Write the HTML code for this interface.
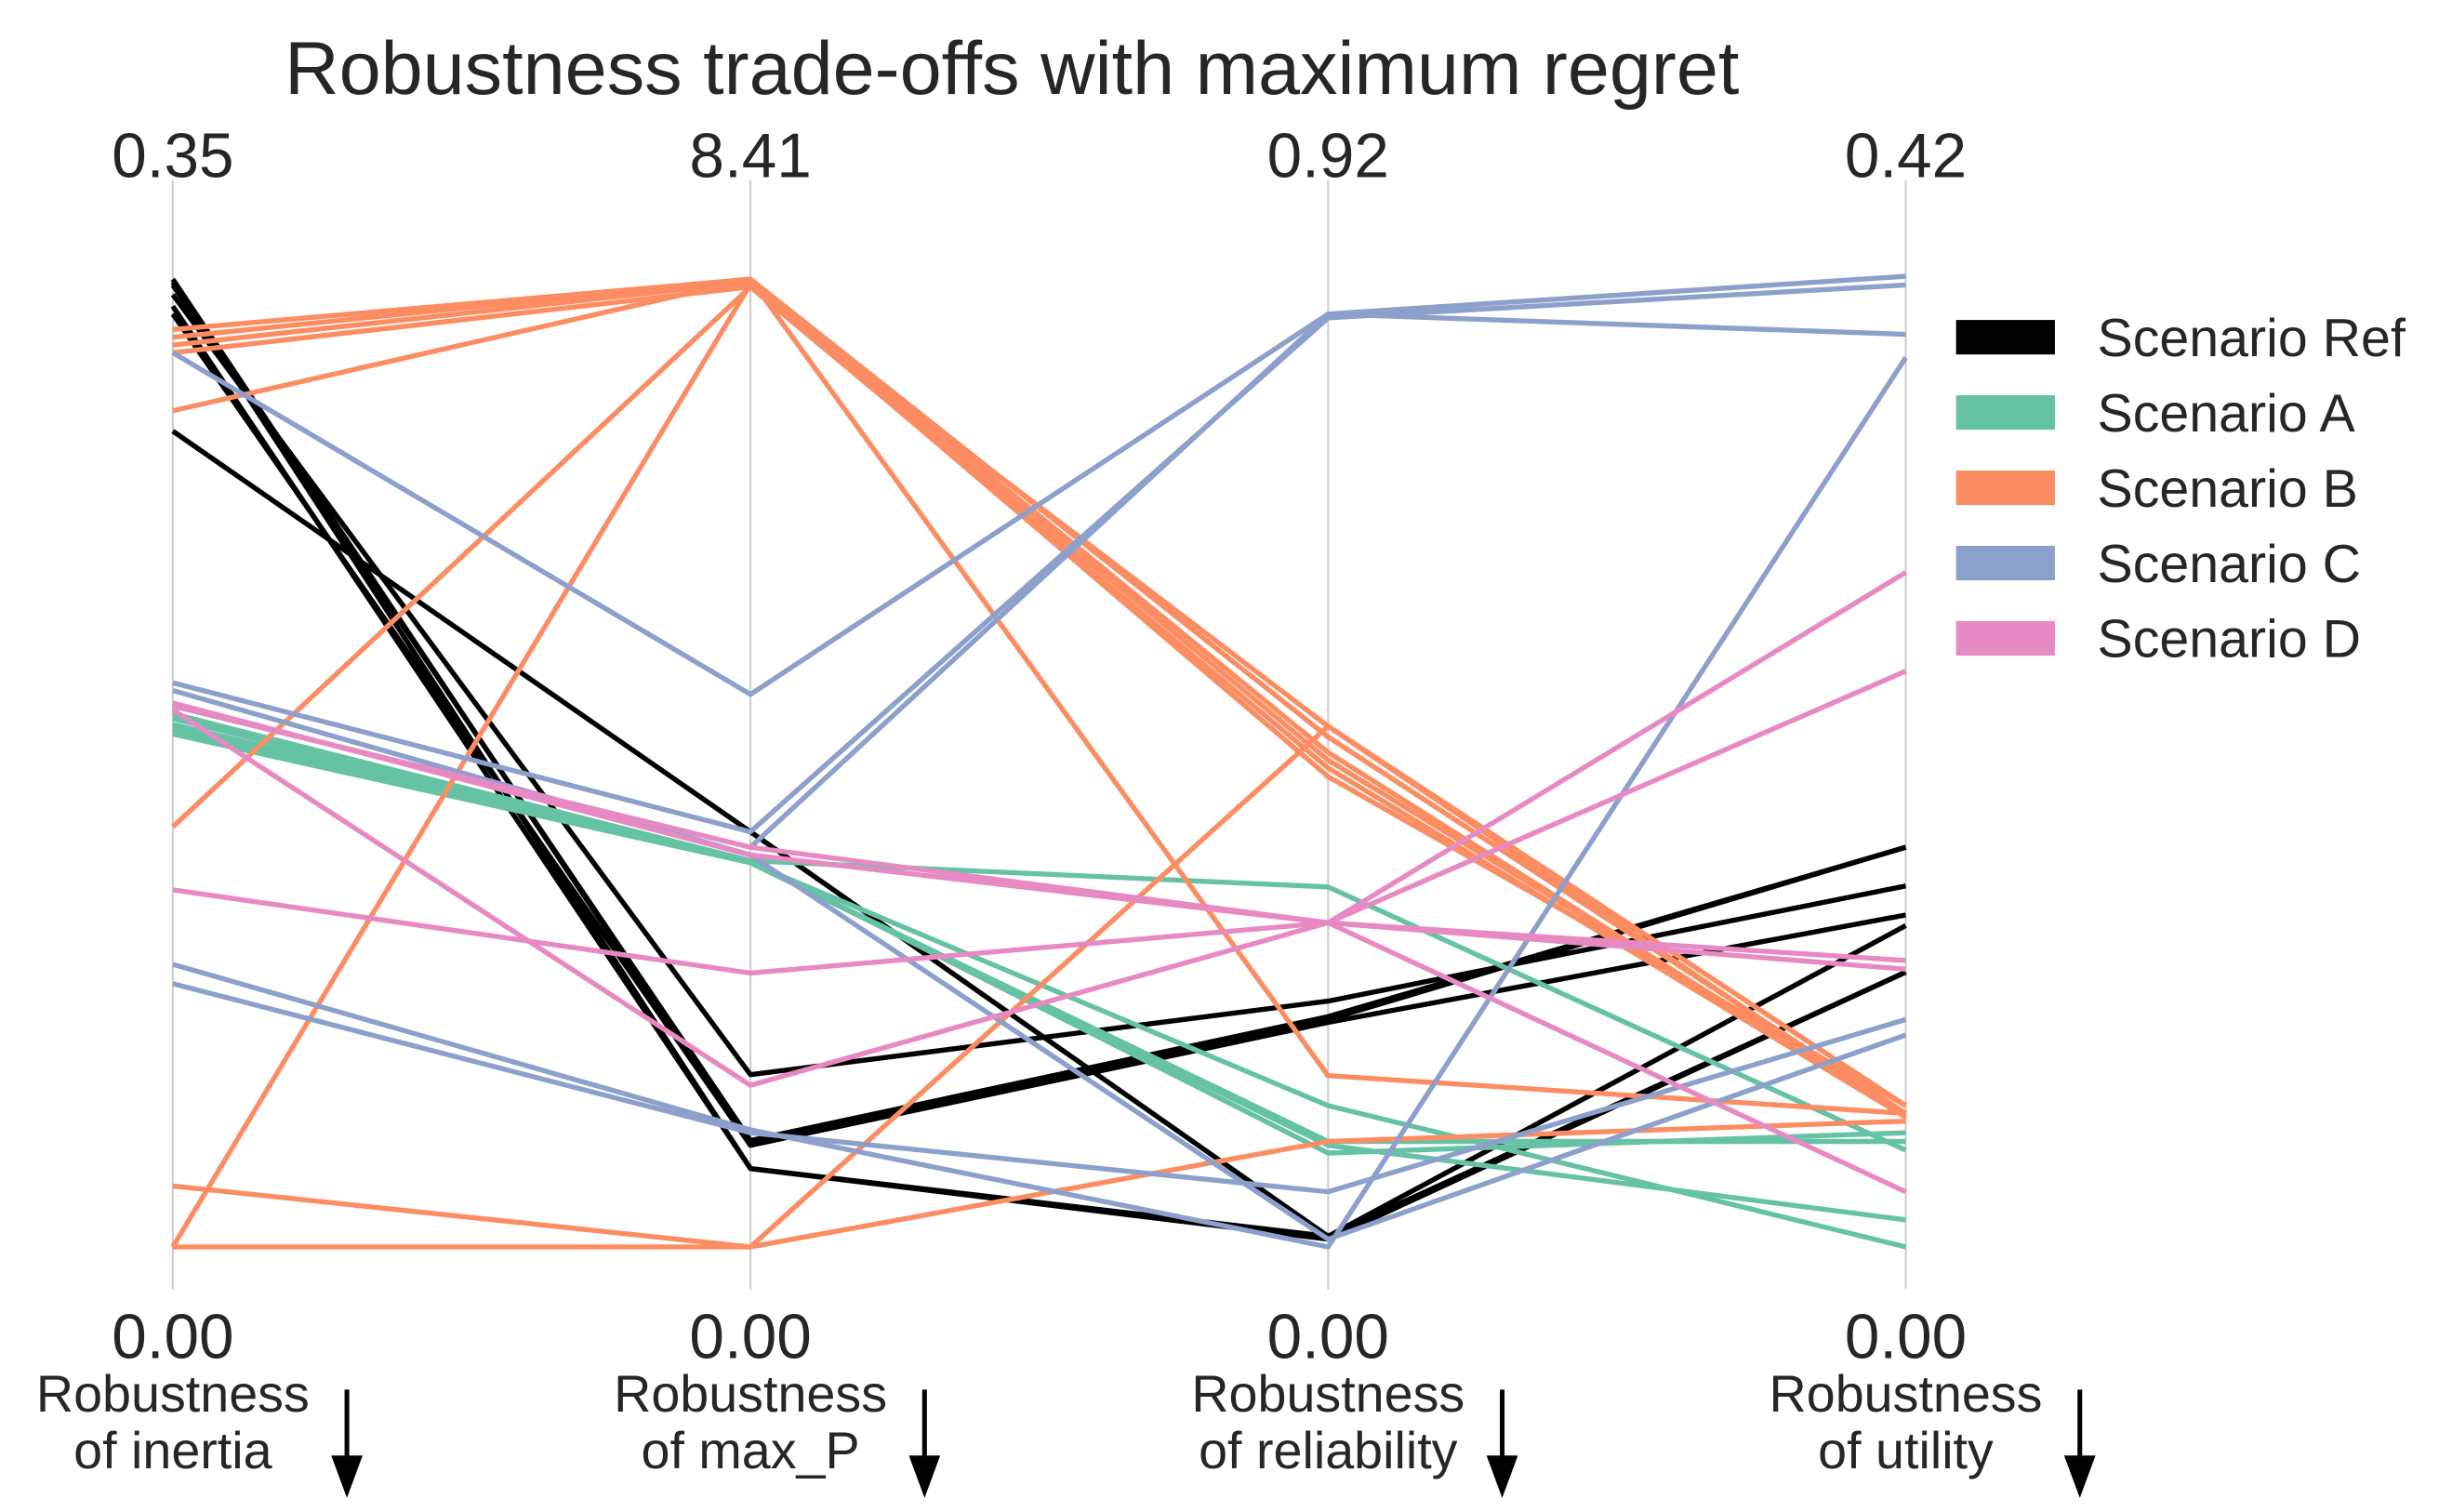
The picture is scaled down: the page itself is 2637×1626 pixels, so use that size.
<!DOCTYPE html>
<html><head><meta charset="utf-8"><style>
html,body{margin:0;padding:0;background:#fff;}
svg{display:block;font-family:"Liberation Sans",Arial,sans-serif;}
</style></head><body>
<svg id="chart" width="2637" height="1626" viewBox="0 0 1563 964" xmlns="http://www.w3.org/2000/svg">
<text x="645" y="60" font-size="48" fill="#262626" text-anchor="middle">Robustness trade-offs with maximum regret</text>
<g id="axes"></g>
<g id="lines"></g>
<g id="legend"></g>
</svg>
<script>
const axisNames = [["Robustness","of inertia"],["Robustness","of max_P"],["Robustness","of reliability"],["Robustness","of utility"]];
const axisMax = [0.35, 8.41, 0.92, 0.42];
const axisMinLabels = ["0.00","0.00","0.00","0.00"];
const axisMaxLabels = ["0.35","8.41","0.92","0.42"];
const scenarioNames = ["Scenario Ref","Scenario A","Scenario B","Scenario C","Scenario D"];
const scenarioColors = ["#000000","#66c2a5","#fc8d62","#8da0cb","#e78ac3"];
// normalized robustness (0..1 along each axis)
const refLines = [
 [1.00,0.105,0.235,0.413],[0.994,0.110,0.238,0.413],[0.984,0.178,0.254,0.373],
 [0.972,0.081,0.011,0.332],[0.964,0.105,0.232,0.343],[0.843,0.429,0.011,0.284],
 [0.997,0.081,0.008,0.284]];
const aLines = [
 [0.551,0.399,0.372,0.100],[0.540,0.397,0.146,0.000],[0.530,0.397,0.105,0.028],
 [0.546,0.399,0.097,0.118],[0.535,0.397,0.109,0.109]];
const bLines = [
 [0.948,1.000,0.527,0.138],[0.940,1.000,0.511,0.134],[0.932,0.997,0.503,0.138],
 [0.924,0.992,0.538,0.134],[0.864,1.000,0.177,0.138],[0.434,0.992,0.495,0.134],
 [0.000,0.995,0.486,0.146],[0.063,0.000,0.109,0.130],[0.000,0.000,0.538,0.146]];
const cLines = [
 [0.924,0.571,0.964,1.003],[0.583,0.429,0.960,0.994],[0.292,0.121,0.000,0.919],
 [0.272,0.118,0.057,0.235],[0.559,0.413,0.964,0.943],[0.575,0.405,0.008,0.219]];
const dLines = [
 [0.562,0.405,0.335,0.296],[0.559,0.413,0.335,0.287],[0.555,0.167,0.335,0.697],
 [0.369,0.283,0.335,0.595],[0.562,0.405,0.335,0.057]];
const scenarioLines = [refLines,aLines,bLines,cLines,dLines];

const NS="http://www.w3.org/2000/svg";
const axisX = i => 110 + i*368.3;
const yTop = 178, yBot = 795;
const yScale = (v) => yBot - v*(yBot-yTop);
function mk(tag, attrs, parent){const e=document.createElementNS(NS,tag);for(const k in attrs)e.setAttribute(k,attrs[k]);parent.appendChild(e);return e;}
const axesG=document.getElementById('axes'), linesG=document.getElementById('lines'), legG=document.getElementById('legend');
axisNames.forEach((nm,i)=>{
  const x=axisX(i);
  const ln=mk('line',{x1:x,x2:x,y1:115,y2:822,stroke:'#cccccc','stroke-width':1.2},axesG);
  
  
  const t1=mk('text',{x:x,y:113,'font-size':40,'text-anchor':'middle',fill:'#262626'},axesG);t1.textContent=axisMaxLabels[i];
  
  
  const t2=mk('text',{x:x,y:866,'font-size':40,'text-anchor':'middle',fill:'#262626'},axesG);t2.textContent=axisMinLabels[i];
  
  
  const t3=mk('text',{x:x,y:900,'font-size':33,'text-anchor':'middle',fill:'#262626'},axesG);t3.textContent=nm[0];
  
  
  const t4=mk('text',{x:x,y:936,'font-size':33,'text-anchor':'middle',fill:'#262626'},axesG);t4.textContent=nm[1];
  
  
  const ax=x+111;
  const sh=mk('line',{x1:ax,x2:ax,y1:886,y2:930,stroke:'#000','stroke-width':3},axesG);
  
  
  const hd=mk('polygon',{points:`${ax-10},928 ${ax+10},928 ${ax},955`,fill:'#000'},axesG);
  
  
});
scenarioLines.forEach((set,s)=>{
  set.forEach(vals=>{
    const pts=vals.map((v,i)=>axisX(i)+','+yScale(v)).join(' ');
    const p=mk('polyline',{points:pts,fill:'none',stroke:scenarioColors[s],'stroke-width':3.2,'stroke-linejoin':'round'},linesG);
    
    
  });
  const ly=215+s*48;
  const r=mk('rect',{x:1247,y:ly-11,width:63,height:22,fill:scenarioColors[s]},legG);
  
  
  const t=mk('text',{x:1337,y:ly+12,'font-size':34,fill:'#262626'},legG);t.textContent=scenarioNames[s];
  
  
});
</script>
</body></html>
